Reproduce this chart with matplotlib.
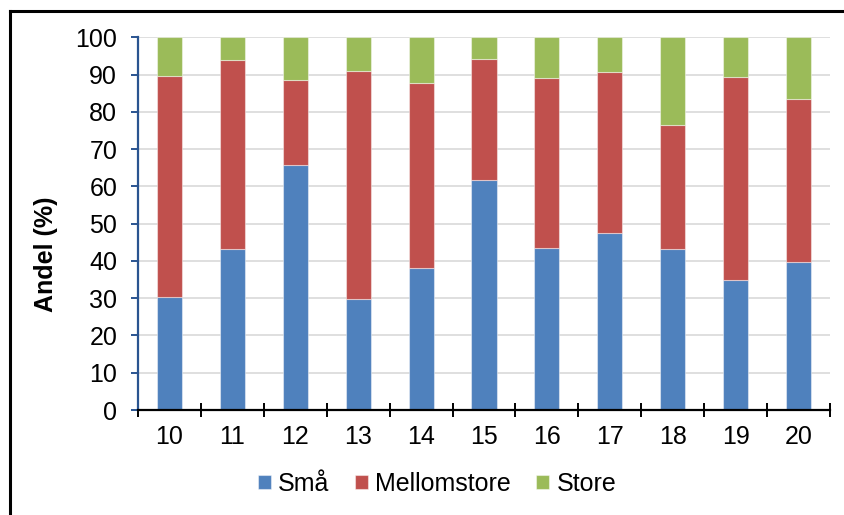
import numpy as np
import matplotlib
matplotlib.use("Agg")
import matplotlib.pyplot as plt
from matplotlib.lines import Line2D

# ─── DATA ──────────────────────────────────────────────────────────────────
kategorier  = ["10", "11", "12", "13", "14", "15", "16", "17", "18", "19", "20"]
sma         = [30.2, 43.3, 65.8, 29.8, 38.1, 61.6, 43.5, 47.5, 43.3, 35.0, 39.8]
mellomstore = [59.4, 50.6, 22.7, 61.1, 49.7, 32.5, 45.7, 43.1, 33.2, 54.3, 43.7]
store       = [10.4, 6.1, 11.5, 9.1, 12.2, 5.9, 10.8, 9.4, 23.5, 10.7, 16.5]
y_ticks     = [0, 10, 20, 30, 40, 50, 60, 70, 80, 90, 100]

C_SMA   = "#4F81BD"
C_MELL  = "#C0504D"
C_STORE = "#9BBB59"
C_YAX   = "#2A5490"

plt.rcParams["font.family"] = ["Liberation Sans", "DejaVu Sans"]
FS = 18

fig = plt.figure(figsize=(8.45, 5.15), dpi=100)
ax = fig.add_axes([138/845, 1 - 410/515, 692/845, 372.7/515])

x = np.arange(len(kategorier))
sma_a  = np.array(sma)
mell_a = np.array(mellomstore)
st_a   = np.array(store)

edge = (1, 1, 1, 0.45)
ax.bar(x, sma_a, width=0.4, color=C_SMA, edgecolor=edge, lw=0.8, label="Små", zorder=3)
ax.bar(x, mell_a, width=0.4, bottom=sma_a, color=C_MELL, edgecolor=edge, lw=0.8,
       label="Mellomstore", zorder=3)
ax.bar(x, st_a, width=0.4, bottom=sma_a + mell_a, color=C_STORE, edgecolor=edge, lw=0.8,
       label="Store", zorder=3)

ax.set_xlim(-0.5, len(kategorier) - 0.5)
ax.set_ylim(0, 100)

# gitterlinjer
ax.set_yticks(y_ticks)
ax.yaxis.grid(True, color="#D9D9D9", lw=1.2, zorder=0)
ax.set_axisbelow(True)

for s in ["top", "right"]:
    ax.spines[s].set_visible(False)
ax.spines["left"].set_color(C_YAX)
ax.spines["left"].set_linewidth(1.6)
ax.spines["bottom"].set_color("black")
ax.spines["bottom"].set_linewidth(1.6)
ax.spines["bottom"].set_zorder(4)

ax.tick_params(axis="y", direction="out", length=5, width=1.4, color=C_YAX,
               labelsize=FS, pad=10, labelcolor="black")

# x: streker mellom kategoriene, etiketter i midten
ax.set_xticks(np.arange(-0.5, len(kategorier), 1.0))
ax.set_xticklabels([])
ax.set_xticks(x, minor=True)
ax.set_xticklabels(kategorier, minor=True)
ax.tick_params(axis="x", which="major", direction="inout", length=9.5, width=1.4,
               color="black")
ax.tick_params(axis="x", which="minor", length=0, labelsize=FS, pad=11)

fig.text(46/845, 1 - 254/515, "Andel (%)", rotation=90, ha="center", va="center",
         fontsize=FS, fontweight="bold")

ax.legend(loc="center", bbox_to_anchor=(437/845, 1 - 484/515),
          bbox_transform=fig.transFigure, ncol=3, frameon=False, fontsize=FS,
          handlelength=0.52, handleheight=0.52, handletextpad=0.3,
          columnspacing=1.0, borderpad=0)

# ytre ramme (delvis synlig)
fig.add_artist(Line2D([10/845, 10/845], [0, 1 - 11/515], transform=fig.transFigure,
                      color="black", lw=2.2))
fig.add_artist(Line2D([10/845, 1], [1 - 11/515, 1 - 11/515], transform=fig.transFigure,
                      color="black", lw=2.2))

fig.savefig("out.png", dpi=100)
